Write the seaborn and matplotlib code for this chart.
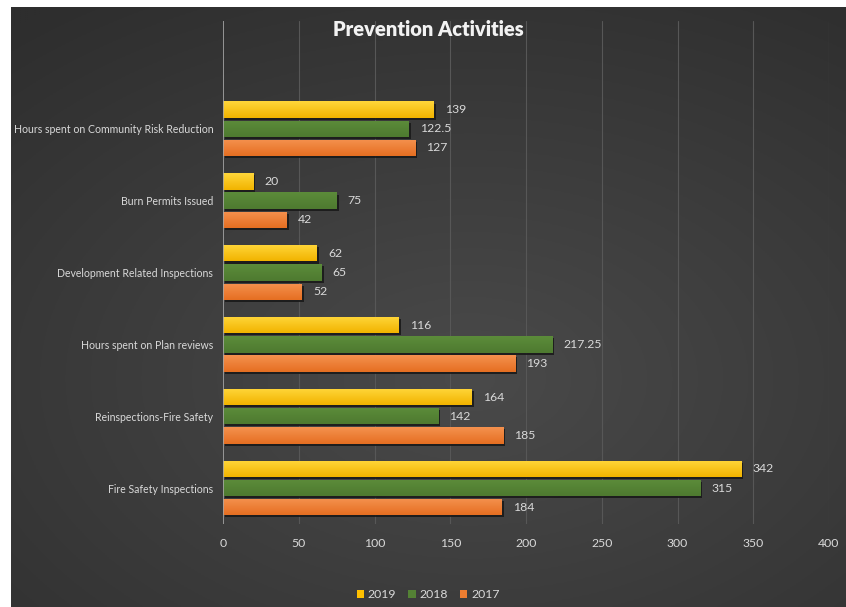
import numpy as np
import pandas as pd
import matplotlib
matplotlib.use("Agg")
import matplotlib.pyplot as plt
import matplotlib.patheffects as pe
from matplotlib.patches import Patch
import seaborn as sns

categories = [
    "Hours spent on Community Risk Reduction",
    "Burn Permits Issued",
    "Development Related Inspections",
    "Hours spent on Plan reviews",
    "Reinspections-Fire Safety",
    "Fire Safety Inspections",
]
years = ["2019", "2018", "2017"]
values_2019 = [139, 20, 62, 116, 164, 342]
values_2018 = [122.5, 75, 65, 217.25, 142, 315]
values_2017 = [127, 42, 52, 193, 185, 184]
x_ticks = [0, 50, 100, 150, 200, 250, 300, 350, 400]

colors = {"2019": "#FFC000", "2018": "#548235", "2017": "#ED7D31"}
tops = {"2019": "#FFD63A", "2018": "#5C8C3A", "2017": "#F5914E"}
bottoms = {"2019": "#F2B400", "2018": "#4E7A30", "2017": "#E56F22"}

df = pd.DataFrame({
    "category": categories * 3,
    "year": ["2019"] * 6 + ["2018"] * 6 + ["2017"] * 6,
    "value": values_2019 + values_2018 + values_2017,
})

sns.set_theme(style="white")
plt.rcParams["font.family"] = ["Lato", "DejaVu Sans"]

W, H = 846, 607
fig = plt.figure(figsize=(W / 100, H / 100), dpi=100, facecolor="white")

# dark chart-area background with a soft radial gradient
bg = fig.add_axes([11 / W, 0, (845 - 11) / W, (H - 7) / H])
yy, xx = np.mgrid[0:1:300j, 0:1:400j]
r = np.sqrt(((xx - 0.55) / 1.0) ** 2 + ((yy - 0.62) / 0.9) ** 2)
shade = np.clip(1 - r / 0.85, 0, 1)
dark = np.array([0x2E, 0x2E, 0x2E]) / 255
light = np.array([0x4A, 0x4A, 0x4A]) / 255
img = dark[None, None, :] + (light - dark)[None, None, :] * shade[..., None]
bg.imshow(img, aspect="auto", extent=[0, 1, 0, 1], origin="upper")
bg.set_axis_off()

ax = fig.add_axes([223 / W, 1 - 524 / H, (829 - 223) / W, (524 - 21) / H])
ax.set_facecolor("none")

sns.barplot(
    data=df, y="category", x="value", hue="year", order=categories,
    hue_order=years, palette=colors, orient="h", width=0.8, gap=0.15,
    ax=ax, legend=False, saturation=1,
)

for cont, yr in zip(ax.containers, years):
    for bar in cont:
        bar.set_edgecolor("none")
        bar.set_path_effects([
            pe.SimplePatchShadow(offset=(1.5, -1.5), shadow_rgbFace="#1a1a1a", alpha=0.9),
            pe.Normal(),
        ])
        # vertical gradient inside each bar
        x0, y0 = bar.get_x(), bar.get_y()
        w, h = bar.get_width(), bar.get_height()
        grad = np.linspace(0, 1, 32)[:, None]
        c0 = np.array(matplotlib.colors.to_rgb(tops[yr]))
        c1 = np.array(matplotlib.colors.to_rgb(bottoms[yr]))
        g = c0[None, None, :] * (1 - grad[..., None]) + c1[None, None, :] * grad[..., None]
        im = ax.imshow(g, aspect="auto", extent=[x0, x0 + w, y0 + h, y0],
                       origin="upper", zorder=bar.get_zorder() + 0.1)
        im.set_clip_path(bar)
    ax.bar_label(cont, labels=[f"{b.get_width():g}" for b in cont],
                 padding=8, color="#D9D9D9", fontsize=8.8)

ax.set_xlim(0, 400)
ax.set_ylim(5.5, -1.5)
ax.set_xticks(x_ticks)
ax.set_xticklabels([str(t) for t in x_ticks])
ax.set_xlabel("")
ax.set_ylabel("")
ax.tick_params(axis="both", length=0, colors="#D9D9D9", labelsize=8.8)
ax.tick_params(axis="y", pad=7, labelsize=7.6)
ax.tick_params(axis="x", pad=10)
for t in x_ticks[1:]:
    ax.axvline(t, color="#575757", lw=0.8, zorder=0)
ax.axvline(0, color="#A6A6A6", lw=1.2, zorder=3)
for s in ax.spines.values():
    s.set_visible(False)

fig.text(428 / W, 1 - 29 / H, "Prevention Activities", ha="center", va="center",
         color="#F2F2F2", fontsize=14.5, fontweight="heavy")

handles = [Patch(facecolor=colors[y], edgecolor="none", label=y) for y in years]
leg = fig.legend(handles=handles, loc="center", bbox_to_anchor=(428 / W, 1 - 595 / H),
                 ncol=3, frameon=False, fontsize=8.8, handlelength=0.6, handleheight=0.6,
                 handletextpad=0.3, columnspacing=1.0)
for t in leg.get_texts():
    t.set_color("#D9D9D9")

fig.savefig("out.png", dpi=100, facecolor="white")
